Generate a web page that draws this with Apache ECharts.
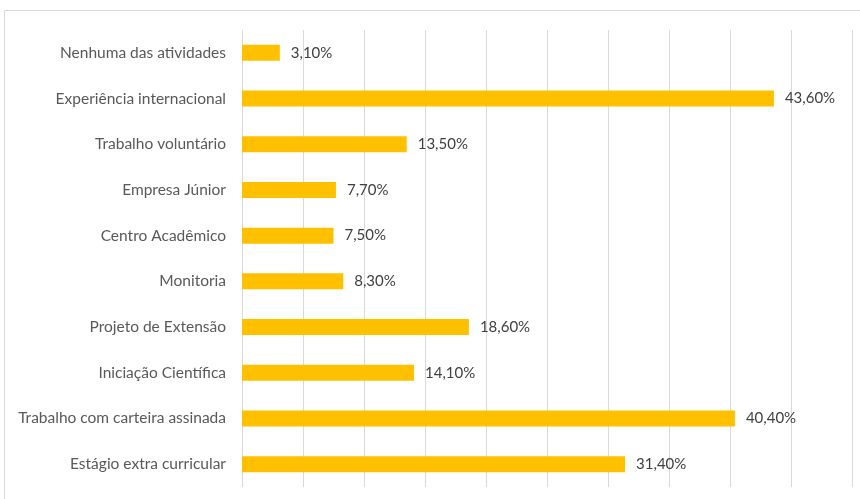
<!DOCTYPE html>
<html>
<head>
<meta charset="utf-8">
<script src="https://cdn.jsdelivr.net/npm/echarts@6/dist/echarts.min.js"></script>
<style>
  html, body { margin: 0; padding: 0; background: #fff; }
  #chart { width: 860px; height: 499px; }
</style>
</head>
<body>
<div id="chart"></div>
<script>
// categories bottom to top (category axis on y starts at the bottom)
var categories = [
  'Estágio extra curricular',
  'Trabalho com carteira assinada',
  'Iniciação Científica',
  'Projeto de Extensão',
  'Monitoria',
  'Centro Acadêmico',
  'Empresa Júnior',
  'Trabalho voluntário',
  'Experiência internacional',
  'Nenhuma das atividades'
];
var values = [31.4, 40.4, 14.1, 18.6, 8.3, 7.5, 7.7, 13.5, 43.6, 3.1];

var myChart = echarts.init(document.getElementById('chart'));
var option = {
  animation: false,
  graphic: [
    {
      type: 'polyline',
      shape: { points: [[4.5, 500], [4.5, 10.5], [860, 10.5]] },
      style: { stroke: '#d9d9d9', lineWidth: 1, fill: null }
    }
  ],
  grid: { left: 242, right: 8, top: 30, bottom: 12 },
  xAxis: {
    type: 'value',
    min: 0,
    max: 50,
    interval: 5,
    axisLabel: { show: false },
    axisLine: { show: false },
    axisTick: { show: false },
    splitLine: { lineStyle: { color: '#d9d9d9', width: 1 } }
  },
  yAxis: {
    type: 'category',
    data: categories,
    axisLine: { show: false },
    axisTick: { show: false },
    axisLabel: {
      margin: 16,
      color: '#595959',
      fontFamily: 'Lato',
      fontSize: 15.5
    }
  },
  series: [{
    type: 'bar',
    data: values,
    barWidth: 16,
    itemStyle: { color: '#ffc000' },
    label: {
      show: true,
      position: 'right',
      distance: 11,
      color: '#404040',
      fontFamily: 'Lato',
      fontSize: 15,
      formatter: function (p) { return p.value.toFixed(2).replace('.', ',') + '%'; }
    }
  }]
};
myChart.setOption(option);
</script>
</body>
</html>
